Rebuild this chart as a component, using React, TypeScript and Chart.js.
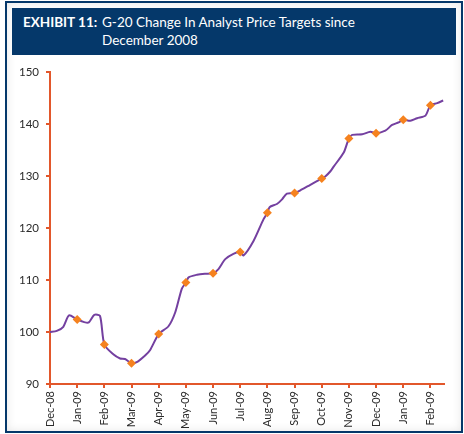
import React, { useEffect, useRef } from "react";
import { Chart, registerables } from "chart.js";

Chart.register(...registerables);

// Month tick labels (x = month index since Dec-08)
const monthLabels = [
  "Dec-08", "Jan-09", "Feb-09", "Mar-09", "Apr-09", "May-09", "Jun-09", "Jul-09",
  "Aug-09", "Sep-09", "Oct-09", "Nov-09", "Dec-09", "Jan-09", "Feb-09",
];

// Position of each observation, in months since Dec-08
const obsMonths = [
  0, 0.25, 0.49, 0.7, 1, 1.41, 1.63, 1.84, 2, 2.33, 2.58, 2.76, 3, 3.19, 3.5, 3.68,
  4, 4.36, 4.61, 4.85, 5, 5.1, 5.41, 5.7, 6, 6.2, 6.45, 6.75, 7, 7.12, 7.49, 7.86,
  8, 8.08, 8.35, 8.54, 8.72, 9, 9.27, 9.58, 10, 10.13, 10.32, 10.44, 10.81, 11,
  11.12, 11.49, 11.79, 12, 12.34, 12.59, 12.83, 13, 13.26, 13.51, 13.82, 14, 14.25, 14.47,
];

// G-20 analyst price target index
const obsValues = [
  100.0, 100.2, 101.0, 103.2, 102.4, 101.8, 103.3, 103.1, 97.6, 95.7, 94.9, 94.8, 94.0, 94.2, 95.5, 96.5,
  99.6, 101.1, 103.8, 108.3, 109.5, 110.5, 111.0, 111.2, 111.3, 112.1, 114.0, 115.0, 115.4, 114.7, 117.5, 121.7,
  122.9, 124.0, 124.6, 125.5, 126.6, 126.7, 127.4, 128.3, 129.5, 129.9, 130.9, 131.8, 134.5, 137.2,
  137.9, 138.0, 138.5, 138.2, 138.7, 139.8, 140.3, 140.8, 140.6, 141.1, 141.6, 143.6, 144.0, 144.5,
];

// Months that carry a diamond marker
const markerMonths = [1, 2, 3, 4, 5, 6, 7, 8, 9, 10, 11, 12, 13, 14];

const yTicks = [90, 100, 110, 120, 130, 140, 150];

const AXIS = "#E2572B";
const LINE = "#7440A0";
const MARK = "#F5821F";
const NAVY = "#05386A";

export default function App() {
  const ref = useRef<HTMLCanvasElement | null>(null);

  useEffect(() => {
    if (!ref.current) return;
    const linePts = obsMonths.map((m, i) => ({ x: m, y: obsValues[i] }));
    const markPts = linePts.filter((p) => markerMonths.includes(p.x));
    const chart = new Chart(ref.current, {
      type: "scatter",
      data: {
        datasets: [
          {
            data: markPts,
            showLine: false,
            pointStyle: "rectRot",
            pointRadius: 4.5,
            pointBackgroundColor: MARK,
            pointBorderColor: MARK,
            pointBorderWidth: 0,
            order: 0,
          },
          {
            data: linePts,
            showLine: true,
            borderColor: LINE,
            borderWidth: 2,
            pointRadius: 0,
            tension: 0.25,
            order: 1,
          },
        ],
      },
      options: {
        animation: false,
        responsive: false,
        maintainAspectRatio: false,
        layout: { padding: { top: 12, right: 12, left: 0, bottom: 0 } },
        plugins: { legend: { display: false }, tooltip: { enabled: false } },
        scales: {
          x: {
            type: "linear",
            min: 0,
            max: 14.5,
            afterBuildTicks: (axis: any) => {
              axis.ticks = monthLabels.map((_, i) => ({ value: i }));
            },
            afterFit: (scale: any) => {
              scale.height = 46;
            },
            border: { display: true, color: AXIS, width: 2 },
            grid: { drawOnChartArea: false, drawTicks: true, tickLength: 4, color: AXIS, lineWidth: 2 },
            ticks: {
              autoSkip: false,
              minRotation: 90,
              maxRotation: 90,
              padding: 3,
              color: "#2b2b2b",
              font: { family: "Lato", size: 11 },
              callback: (v: any) => monthLabels[Math.round(Number(v))] ?? "",
            },
          },
          y: {
            min: 90,
            max: 150,
            afterBuildTicks: (axis: any) => {
              axis.ticks = yTicks.map((v) => ({ value: v }));
            },
            afterFit: (scale: any) => {
              scale.width = 42;
            },
            border: { display: true, color: AXIS, width: 2 },
            grid: { drawOnChartArea: false, drawTicks: true, tickLength: 4, color: AXIS, lineWidth: 2 },
            ticks: {
              padding: 7,
              color: "#2b2b2b",
              font: { family: "Lato", size: 11.5 },
            },
          },
        },
      },
    });
    return () => chart.destroy();
  }, []);

  return (
    <div
      style={{
        position: "fixed",
        left: 0,
        top: 0,
        width: 464,
        height: 434,
        background: "#ffffff",
      }}
    >
      <div
        style={{
          position: "absolute",
          left: 5,
          top: 1,
          width: 454,
          height: 428,
          border: `2px solid ${NAVY}`,
          boxShadow: "inset 0 0 10px rgba(0,0,0,0.10)",
          background: "#ffffff",
        }}
      />
      <div
        style={{
          position: "absolute",
          left: 12,
          top: 8,
          width: 444,
          height: 47,
          background: NAVY,
          color: "#ffffff",
          fontFamily: "Lato, 'Open Sans', sans-serif",
          fontSize: 13.5,
          lineHeight: "18px",
        }}
      >
        <div style={{ position: "absolute", left: 11, top: 5, fontWeight: 700 }}>EXHIBIT 11:</div>
        <div style={{ position: "absolute", left: 90, top: 5 }}>
          G-20 Change In Analyst Price Targets since
          <br />
          December 2008
        </div>
      </div>
      <canvas
        ref={ref}
        width={448}
        height={372}
        style={{ position: "absolute", left: 8, top: 58, width: 448, height: 372 }}
      />
    </div>
  );
}
